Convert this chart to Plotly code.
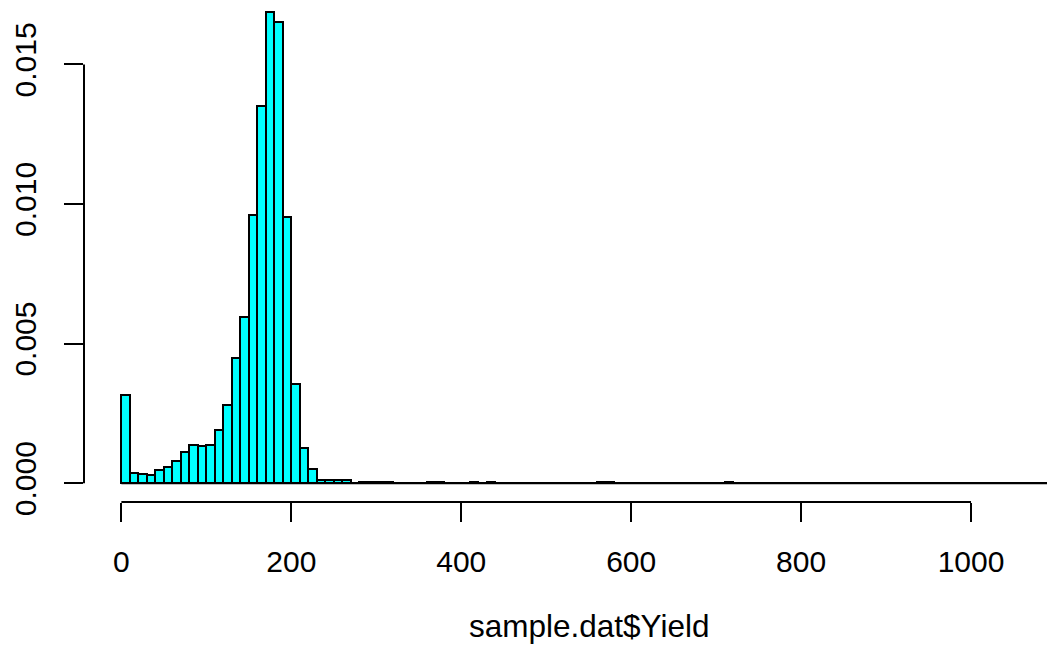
import plotly.graph_objects as go

# Histogram of yield (density scale), 10-unit bins from 0 to 1100
bin_width = 10
bin_start = 0
bin_end = 1100
density = [
    0.00316, 0.00036, 0.00034, 0.00029, 0.00048, 0.00059, 0.00081, 0.00110,
    0.00137, 0.00133, 0.00137, 0.00190, 0.00281, 0.00447, 0.00595, 0.00961,
    0.01350, 0.01688, 0.01652, 0.00953, 0.00354, 0.00126, 0.00051, 0.00011,
    0.00011, 0.00011, 0.00010, 0.0, 0.00004, 0.00004, 0.00003, 0.00003,
    0.0, 0.0, 0.0, 0.0, 0.00005, 0.00003, 0.0, 0.0,
    0.0, 0.00003, 0.0, 0.00003, 0.0, 0.0, 0.0, 0.0,
    0.0, 0.0, 0.0, 0.0, 0.0, 0.0, 0.0, 0.0,
    0.00003, 0.00003, 0.0, 0.0, 0.0, 0.0, 0.0, 0.0,
    0.0, 0.0, 0.0, 0.0, 0.0, 0.0, 0.0, 0.00003,
]
n_bins = (bin_end - bin_start) // bin_width
density = density + [0.0] * (n_bins - len(density))
centers = [bin_start + bin_width * (i + 0.5) for i in range(n_bins)]

x_ticks = [0, 200, 400, 600, 800, 1000]
y_ticks = [0.0, 0.005, 0.010, 0.015]
y_tick_text = ["0.000", "0.005", "0.010", "0.015"]
x_title = "sample.dat$Yield"

FONT = "Liberation Sans, Arial, Helvetica, sans-serif"
FONT_SIZE = 30
W, H = 1047, 655
left, bottom = 83.6, 153.3

# R-style 4% padding around the data range
x_lo = bin_start - 0.04 * (bin_end - bin_start)
x_px = 0.85  # pixels per x unit
x_hi = x_lo + (W - left) / x_px
y_max = max(density)
y_lo = -0.04 * y_max
y_px = 139.5 / 0.005
y_hi = y_lo + (H - bottom) / y_px

fig = go.Figure()
fig.add_trace(go.Bar(
    x=centers, y=density, width=bin_width,
    marker=dict(color="#00FFFF", line=dict(color="black", width=2)),
    hoverinfo="x+y",
))

shapes = [
    # zero-height bins show as a run of bar outlines along the baseline
    dict(type="line", xref="x", yref="y", x0=bin_start, x1=bin_end, y0=0, y1=0,
         line=dict(color="black", width=2)),
    # axis lines spanning only the tick range
    dict(type="line", xref="x", yref="paper", x0=x_ticks[0], x1=x_ticks[-1], y0=0, y1=0,
         line=dict(color="black", width=2)),
    dict(type="line", xref="paper", yref="y", x0=0, x1=0, y0=y_ticks[0], y1=y_ticks[-1],
         line=dict(color="black", width=2)),
]

fig.update_layout(
    width=W, height=H,
    margin=dict(l=left, r=0, t=0, b=bottom, pad=0),
    paper_bgcolor="white", plot_bgcolor="white",
    showlegend=False, bargap=0,
    shapes=shapes,
    font=dict(family=FONT, size=FONT_SIZE, color="black"),
    xaxis=dict(range=[x_lo, x_hi], tickvals=x_ticks, ticks="outside", ticklen=19,
               tickwidth=2, tickcolor="black", showline=False, showgrid=False,
               zeroline=False, ticklabelstandoff=14, automargin=False),
    yaxis=dict(range=[y_lo, y_hi], tickvals=y_ticks, ticktext=y_tick_text,
               tickangle=-90, ticks="outside", ticklen=19, tickwidth=2,
               tickcolor="black", showline=False, showgrid=False, zeroline=False,
               ticklabelstandoff=16, automargin=False),
)

fig.add_annotation(
    text=x_title, xref="x", yref="paper",
    x=(x_lo + bin_end + 0.04 * (bin_end - bin_start)) / 2, y=0,
    yshift=-124, yanchor="middle", showarrow=False,
    font=dict(family=FONT, size=31.5, color="black"),
)

fig.write_html("out.html")
